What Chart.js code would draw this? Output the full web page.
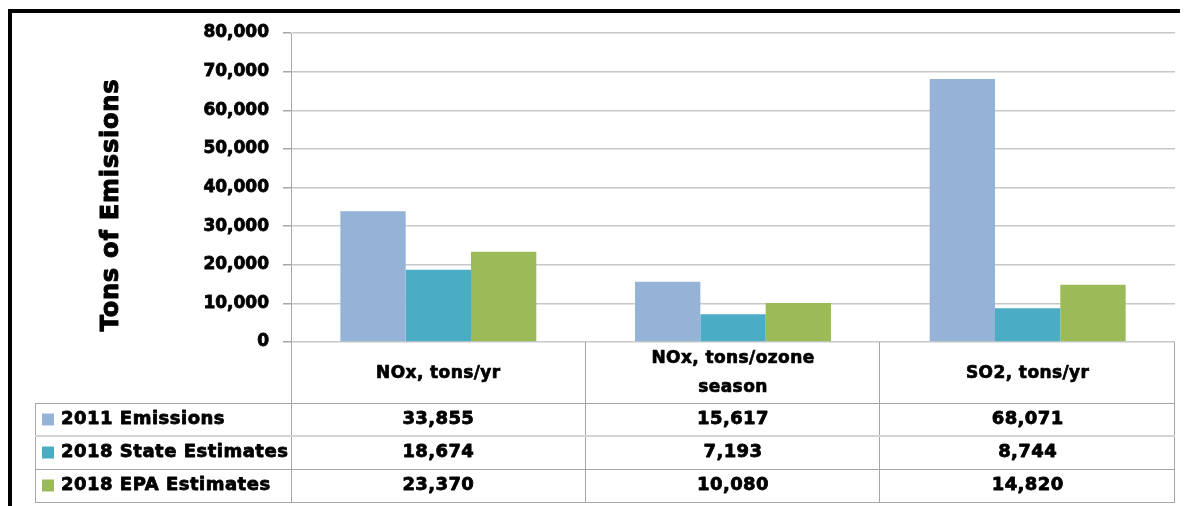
<!DOCTYPE html>
<html>
<head>
<meta charset="utf-8">
<script src="https://cdn.jsdelivr.net/npm/chart.js@4/dist/chart.umd.min.js"></script>
<style>
  body { margin: 0; background: #fff; }
  #wrap { position: relative; width: 1185px; height: 506px; }
</style>
</head>
<body>
<div id="wrap"><canvas id="emissionsChart" width="1185" height="506"></canvas></div>
<script>
// categories and series
const categories = [["NOx, tons/yr"], ["NOx, tons/ozone", "season"], ["SO2, tons/yr"]];
const seriesNames = ["2011 Emissions", "2018 State Estimates", "2018 EPA Estimates"];
const emissions2011 = [33855, 15617, 68071];
const stateEstimates2018 = [18674, 7193, 8744];
const epaEstimates2018 = [23370, 10080, 14820];
const seriesColors = ["#95B3D7", "#4BACC6", "#9BBB59"];
const yTicks = [0, 10000, 20000, 30000, 40000, 50000, 60000, 70000, 80000];
const yTitle = "Tons of Emissions";

const FONT = '"DejaVu Sans", Arial, sans-serif';
const allSeries = [emissions2011, stateEstimates2018, epaEstimates2018];

// heavy text: fill plus a thin stroke to get closer to Arial Black
function heavyText(ctx, t, x, y, sw) {
    ctx.lineWidth = sw;
    ctx.strokeStyle = '#000';
    ctx.lineJoin = 'round';
    ctx.strokeText(t, x, y);
    ctx.fillText(t, x, y);
}

// table below the plot: header row with categories, then one row per series
const dataTablePlugin = {
    id: 'dataTable',
    beforeDraw(chart) {
        const ctx = chart.ctx;
        ctx.save();
        ctx.fillStyle = '#fff';
        ctx.fillRect(0, 0, chart.width, chart.height);
        // frame (top and left edges only show in the crop)
        ctx.fillStyle = '#000';
        ctx.fillRect(8, 9, 1172, 4);
        ctx.fillRect(8, 9, 4, 497);
        ctx.restore();
    },
    afterDraw(chart) {
        const ctx = chart.ctx;
        const x = chart.scales.x;
        const area = chart.chartArea;
        const half = (x.getPixelForValue(1) - x.getPixelForValue(0)) / 2;
        const headerBottom = 403;
        const rowH = 33;
        const tableLeft = 35;
        const tableBottom = headerBottom + rowH * seriesNames.length;

        ctx.save();
        // y axis title
        ctx.translate(112, 205);
        ctx.rotate(-Math.PI / 2);
        ctx.font = 'bold 24px ' + FONT;
        ctx.letterSpacing = '0.8px';
        ctx.fillStyle = '#000';
        ctx.textAlign = 'center';
        ctx.textBaseline = 'middle';
        heavyText(ctx, yTitle, 0, 0, 1);
        ctx.restore();

        ctx.save();
        ctx.strokeStyle = '#A6A6A6';
        ctx.lineWidth = 1;
        // vertical lines
        ctx.beginPath();
        ctx.moveTo(area.left + 0.5, area.bottom);
        ctx.lineTo(area.left + 0.5, tableBottom);
        categories.forEach((c, i) => {
            const xr = Math.round(x.getPixelForValue(i) + half) - 0.5;
            ctx.moveTo(xr, area.bottom);
            ctx.lineTo(xr, tableBottom);
        });
        ctx.moveTo(tableLeft + 0.5, headerBottom);
        ctx.lineTo(tableLeft + 0.5, tableBottom);
        ctx.stroke();
        // horizontal lines
        for (let r = 0; r <= seriesNames.length; r++) {
            const y = headerBottom + r * rowH;
            ctx.beginPath();
            let yy = y + 0.5;
            if (r === 1) {
                ctx.strokeStyle = '#D4D4D4';
                ctx.lineWidth = 2;
                yy = y;
            } else {
                ctx.strokeStyle = '#A6A6A6';
                ctx.lineWidth = 1;
            }
            ctx.moveTo(tableLeft, yy);
            ctx.lineTo(area.right, yy);
            ctx.stroke();
        }

        // header text
        ctx.fillStyle = '#000';
        ctx.textAlign = 'center';
        ctx.textBaseline = 'middle';
        ctx.font = 'bold 17px ' + FONT;
        ctx.letterSpacing = '0.4px';
        const headerMid = (area.bottom + headerBottom) / 2 + 1;
        categories.forEach((lines, i) => {
            const cx = x.getPixelForValue(i);
            lines.forEach((t, k) => {
                const y = headerMid + (k - (lines.length - 1) / 2) * 29;
                heavyText(ctx, t, cx, y, 0.7);
            });
        });

        // rows
        ctx.font = 'bold 18px ' + FONT;
        seriesNames.forEach((name, r) => {
            const cy = headerBottom + r * rowH + rowH / 2;
            ctx.fillStyle = seriesColors[r];
            ctx.fillRect(42, cy - 6, 12, 12);
            ctx.fillStyle = '#000';
            ctx.textAlign = 'left';
            ctx.letterSpacing = '0.5px';
            heavyText(ctx, name, 61, cy, 0.8);
            ctx.textAlign = 'center';
            ctx.letterSpacing = '0.4px';
            allSeries[r].forEach((v, i) => {
                heavyText(ctx, v.toLocaleString('en-US'), x.getPixelForValue(i), cy, 0.8);
            });
        });
        ctx.restore();
    }
};

const ctx = document.getElementById('emissionsChart').getContext('2d');
new Chart(ctx, {
    type: 'bar',
    data: {
        labels: categories.map(c => c.join(' ')),
        datasets: seriesNames.map((name, i) => ({
            label: name,
            data: allSeries[i],
            backgroundColor: seriesColors[i],
            borderWidth: 0,
            categoryPercentage: 0.665,
            barPercentage: 1.0
        }))
    },
    options: {
        responsive: false,
        animation: false,
        locale: 'en-US',
        layout: { padding: { left: 0, top: 33, right: 10, bottom: 164 } },
        plugins: {
            legend: { display: false },
            tooltip: { enabled: false }
        },
        scales: {
            x: { display: false },
            y: {
                min: 0,
                max: 80000,
                afterFit(scale) { scale.width = 291; },
                afterBuildTicks(scale) { scale.ticks = yTicks.map(v => ({ value: v })); },
                ticks: {
                    color: '#000',
                    padding: 14,
                    font: { family: FONT, size: 17, weight: 'bold' },
                    textStrokeColor: '#000',
                    textStrokeWidth: 0.8,
                    callback: v => v.toLocaleString('en-US')
                },
                grid: {
                    color: '#C8C8C8',
                    lineWidth: 1.5,
                    tickLength: 8,
                    tickColor: '#A6A6A6'
                },
                border: { display: true, color: '#A6A6A6', width: 1 }
            }
        }
    },
    plugins: [dataTablePlugin]
});
</script>
</body>
</html>
